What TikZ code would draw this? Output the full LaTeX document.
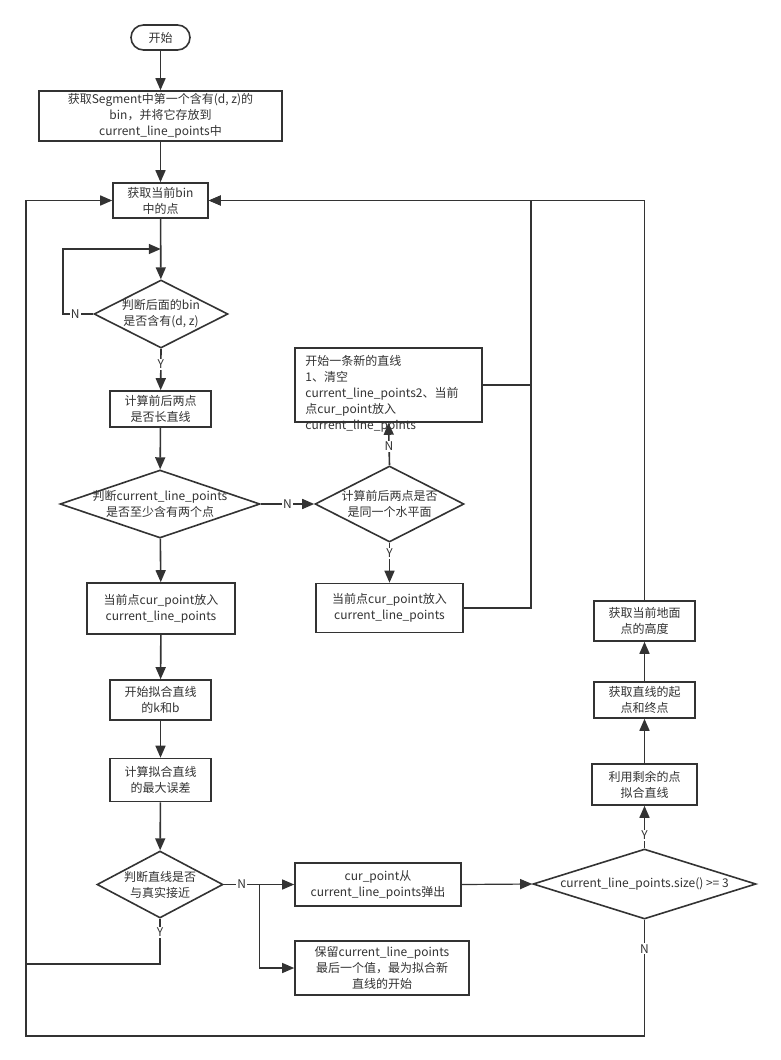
\documentclass[tikz,border=0pt]{standalone}
\usepackage{fontspec}
\setmainfont{Noto Sans CJK SC}
\usetikzlibrary{shapes.geometric,arrows.meta,calc}
\definecolor{ink}{HTML}{333333}

\begin{document}
\begin{tikzpicture}[x=1pt,y=-1pt,font=\fontsize{12}{16}\selectfont,text=ink,
  box/.style={draw=ink,line width=1.6pt,fill=white,inner sep=0pt,align=center},
  dia/.style={draw=ink,diamond,line width=1.6pt,fill=white,inner sep=0pt},
  arr/.style={draw=ink,line width=1.6pt,-{Triangle[length=12pt,width=10pt]}},
  back/.style={draw=ink,line width=1.2pt},
  yn/.style={fill=white,inner sep=1pt}]

\useasboundingbox (0,0) rectangle (780,1060);

\node[box,rounded corners=12.5pt,minimum width=59,minimum height=25] (start) at (160.5,37.5) {开始};
\node[box,minimum width=243,minimum height=50] (b1) at (160.5,116) {获取Segment中第一个含有(d, z)的\\bin，并将它存放到\\current\_line\_points中};
\node[box,minimum width=95,minimum height=35] (b2) at (160.5,200.5) {获取当前bin\\中的点};
\node[dia,minimum width=134,minimum height=68] (d1) at (161,314) {};
\node[align=center] at (d1) {判断后面的bin\\是否含有(d, z)};
\node[box,minimum width=101,minimum height=36] (b3) at (160.5,409) {计算前后两点\\是否长直线};
\node[dia,minimum width=200,minimum height=68] (d2) at (160,504) {};
\node[align=center] at (d2) {判断current\_line\_points\\是否至少含有两个点};
\node[dia,minimum width=149,minimum height=76] (d3) at (389.5,504) {};
\node[align=center] at (d3) {计算前后两点是否\\是同一个水平面};
\node[box,minimum width=187,minimum height=74] (b4) at (388.5,385) {};
\node[anchor=north west,align=left,inner sep=0pt] (t4) at ($(b4.north west)+(11,8)$) {开始一条新的直线\\1、清空\\current\_line\_points2、当前\\点cur\_point放入\\current\_line\_points};
\node[box,minimum width=147,minimum height=49] (b5) at (389.5,608) {当前点cur\_point放入\\current\_line\_points};
\node[box,minimum width=148,minimum height=51] (b6) at (161,608.5) {当前点cur\_point放入\\current\_line\_points};
\node[box,minimum width=101,minimum height=40] (b7) at (160.5,700) {开始拟合直线\\的k和b};
\node[box,minimum width=101,minimum height=43] (b8) at (160.5,780) {计算拟合直线\\的最大误差};
\node[dia,minimum width=126,minimum height=67] (d4) at (160,884.5) {};
\node[align=center] at (d4) {判断直线是否\\与真实接近};
\node[box,minimum width=166,minimum height=43] (b9) at (378,884.5) {cur\_point从\\current\_line\_points弹出};
\node[box,minimum width=174,minimum height=54] (b10) at (382,968) {保留current\_line\_points\\最后一个值，最为拟合新\\直线的开始};
\node[dia,minimum width=223,minimum height=70] (d5) at (644.5,884) {};
\node at (d5) {current\_line\_points.size() >= 3};
\node[box,minimum width=105,minimum height=41] (b11) at (644.5,784.5) {利用剩余的点\\拟合直线};
\node[box,minimum width=101,minimum height=36] (b12) at (644.5,700) {获取直线的起\\点和终点};
\node[box,minimum width=101,minimum height=40] (b13) at (644.5,621) {获取当前地面\\点的高度};

\coordinate (r1) at (531,0);
\coordinate (sp) at ($(d4.east)+(36,0)$);
\coordinate (lb) at (26,964);
\coordinate (lc) at (26,1036);

\draw[arr] (start) -- (b1);
\draw[arr] (b1) -- (b2);
\draw[arr] (b2) -- (d1);
\draw[arr] (d1.west) -- node[yn,pos=0.6]{N} ++(-30,0) |- ($(b2.south)!0.5!(d1.north)$);
\draw[arr] (d1.south) -- node[yn,pos=0.37]{Y} (b3);
\draw[arr] (b3) -- (d2);
\draw[arr] (d2.east) -- node[yn]{N} (d3.west);
\draw[arr] (d3.north) -- node[yn,pos=0.45]{N} (b4.south);
\draw[arr] (d3.south) -- node[yn,pos=0.27]{Y} (b5);
\draw[back,-{Triangle[length=12pt,width=10pt]}] (b4.east) -- (b4.east -| r1) |- (b2.east);
\draw[back] (b5.east) -| (b4.east -| r1);
\draw[arr] (d2) -- (b6);
\draw[arr] (b6) -- (b7);
\draw[arr] (b7) -- (b8);
\draw[arr] (b8) -- (d4);
\draw[line width=1.6pt,draw=ink] (d4.east) -- node[yn]{N} (sp);
\draw[back,-{Triangle[length=12pt,width=10pt]}] (sp) -- (b9.west);
\draw[back,-{Triangle[length=12pt,width=10pt]}] (sp) |- (b10.west);
\draw[arr] (d4.south) -- node[yn,pos=0.3]{Y} (d4.south |- lb) -- (lb) |- (b2.west);
\draw[back,-{Triangle[length=12pt,width=10pt]}] (b9.east) -- (d5.west);
\draw[arr] (d5.north) -- node[yn,pos=0.3]{Y} (b11.south);
\draw[arr] (b11) -- (b12);
\draw[arr] (b12) -- (b13);
\draw[back,-{Triangle[length=12pt,width=10pt]}] (b13.north) |- (b2.east);
\draw[back] (d5.south) -- node[yn,pos=0.25]{N} (d5.south |- lc) -- (lc) -- (lb);

\end{tikzpicture}
\end{document}
